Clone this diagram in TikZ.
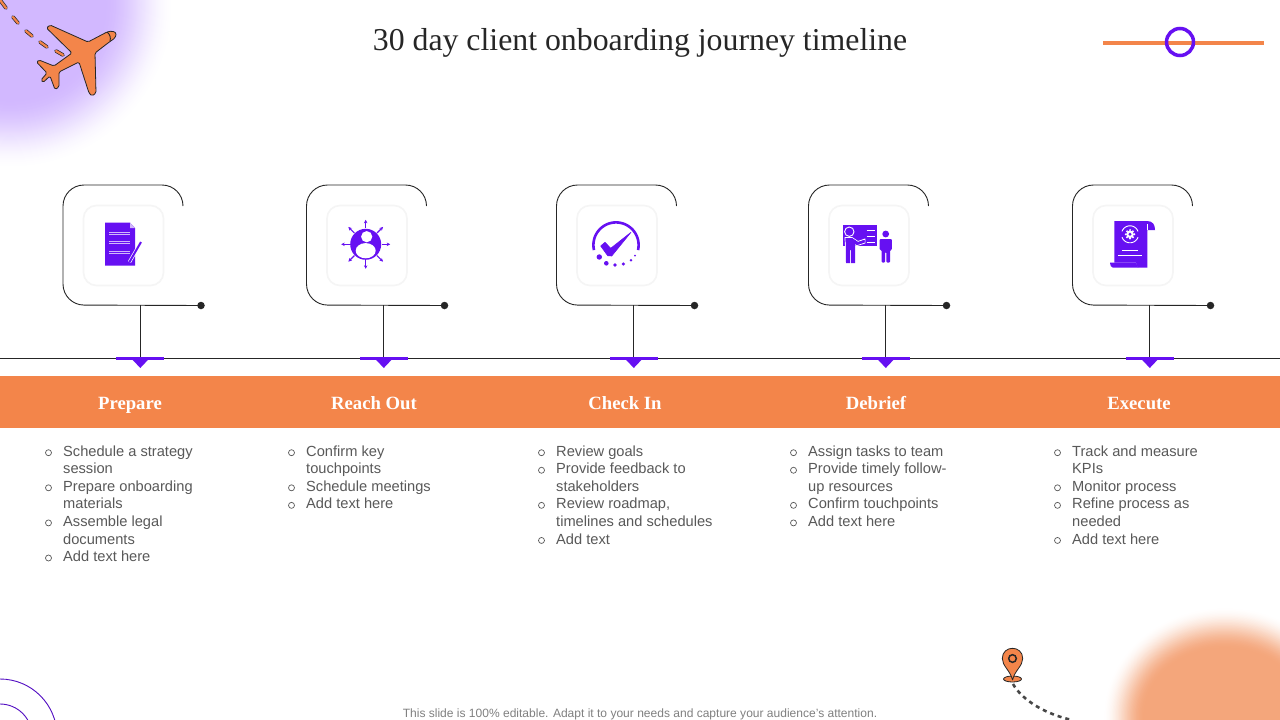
\documentclass[tikz,border=0pt]{standalone}
\usepackage{fontspec}
\setmainfont{Liberation Sans}
\newfontfamily\serifface{Liberation Serif}
\usetikzlibrary{arrows.meta,calc}
\definecolor{vio}{HTML}{6610F2}
\definecolor{org}{HTML}{F3854A}
\definecolor{ink}{HTML}{262626}
\definecolor{bodytxt}{HTML}{595959}
\definecolor{glowp}{HTML}{D2B8FF}
\definecolor{glowo}{HTML}{F4A67B}
\tikzset{
 bracket/.style={draw=ink,line width=0.9pt,rounded corners=21pt},
 card/.style={draw=black!4,line width=1.6pt,fill=white,rounded corners=13pt,minimum size=80pt,inner sep=0pt},
 enddot/.style={circle,fill=ink,minimum size=7.5pt,inner sep=0pt},
 stem/.style={draw=ink,line width=0.9pt},
 marker/.style={fill=vio,draw=none},
 headlabel/.style={font=\serifface\bfseries\fontsize{18.7}{20}\selectfont,text=white,inner sep=0pt,anchor=base},
 itemlist/.style={font=\fontsize{14.65}{17.6}\selectfont,text=bodytxt,align=left,anchor=north west,inner sep=0pt},
 bullet/.style={circle,draw=bodytxt,line width=0.7pt,minimum size=6pt,inner sep=0pt},
 ico/.style={fill=vio,draw=none},
 icow/.style={draw=white,line width=0.9pt},
 icoa/.style={draw=vio,line width=1.1pt,-{Stealth[length=3.5pt,width=3.5pt]}},
 trail/.style={line width=3.6pt,line cap=round,draw=ink},
 trailin/.style={line width=2.2pt,line cap=round,draw=org},
}
\newcommand{\stagecol}[6]{%
 \draw[bracket] (#2+120,206) -- (#2+120,185) -- (#2,185) -- (#2,305) -- (#2+138,305.5);
 \node[enddot] (dot#1) at (#2+138,305.5) {};
 \node[card] (card#1) at (#2+60.5,245.5) {};
 \coordinate (top#1) at (#2+77.3,305);
 \coordinate (mk#1) at (#2+77.3,358);
 \draw[stem] (top#1) -- (mk#1);
 \fill[marker] (#2+53.3,357) rectangle (#2+101.3,359.5);
 \fill[marker] (#2+68.8,359) -- (#2+85.8,359) -- (#2+77.3,368) -- cycle;
 \node[headlabel] (head#1) at (#3,409) {#4};
 \node[itemlist] (list#1) at (#6,445.2) {#5};
}
\newcommand{\bul}[3]{\foreach \k in {#3} {\node[bullet] at (#1,#2+\k*17.55) {};}}
\begin{document}
\begin{tikzpicture}[x=1pt,y=-1pt]
\useasboundingbox (0,0) rectangle (1280,720);
\fill[white] (0,0) rectangle (1280,720);
\begin{scope}
 \clip (0,0) rectangle (1280,720);
 % soft glows as stacked discs
 \foreach \i in {0,...,70}{
  \pgfmathsetmacro{\tt}{\i/70}
  \pgfmathsetmacro{\pc}{100*\tt*\tt*(3-2*\tt)}
  \fill[glowp!\pc!white] (10,5) circle ({165-72*\tt});
  \fill[glowo!\pc!white] (1225,717) ellipse ({122-42*\tt} and {110-42*\tt});
 }
 \draw[draw=vio!80!black,line width=0.9pt] (0,736) circle (57);
 \draw[draw=vio!80!black,line width=0.9pt] (0,736) circle (32);
 \foreach \a/\b/\c/\d in {0/0/6/8,13/17/18/23,26/31/32/36,40/42/47/47,56/51/63/55}{
  \draw[trail] (\a,\b) -- (\c,\d);
  \draw[trailin] (\a,\b) -- (\c,\d);
 }
 \draw[draw=ink!85,line width=2.6pt,dash pattern=on 4pt off 4pt] (1013,684) .. controls (1022,700) and (1045,714) .. (1072,720);
\end{scope}
% plane
\draw[draw=ink,fill=org,line width=0.8pt,line join=round,rounded corners=1.5pt]
 (112,31) -- (116.5,33) -- (115,38) -- (108,43) -- (95,53) -- (96,93) -- (92,96) -- (89,93) -- (79,62) -- (59,72)
 -- (59,87) -- (55,89.5) -- (50,76) -- (43,82.5) -- (41,80) -- (47,73) -- (36.5,62) -- (39,60) -- (54,66) -- (72,53)
 -- (46.5,28) -- (50,25) -- (88,42) -- (107,32) -- cycle;
\draw[draw=ink,line width=0.9pt] (107,32) .. controls (110,34) and (111,38) .. (110,41);
% title
\node[font=\serifface\fontsize{31.8}{36}\selectfont,text=ink,inner sep=0pt] (title) at (640,43) {30 day client onboarding journey timeline};
% slider
\draw[draw=org,line width=4pt] (1103,43) -- (1264,43);
\node[circle,draw=vio,line width=3.5pt,minimum size=27pt,inner sep=0pt] (knob) at (1180,42) {};
% timeline and band
\draw[draw=ink,line width=0.8pt] (0,358) -- (1280,358);
\fill[org] (0,376) rectangle (1280,428);
% columns
\stagecol{a}{63}{130}{Prepare}{Schedule a strategy\\session\\Prepare onboarding\\materials\\Assemble legal\\documents\\Add text here}{63}
\stagecol{b}{306.5}{374}{Reach Out}{Confirm key\\touchpoints\\Schedule meetings\\Add text here}{306}
\stagecol{c}{556.5}{625}{Check In}{Review goals\\Provide feedback to\\stakeholders\\Review roadmap,\\timelines and schedules\\Add text}{556}
\stagecol{d}{808.5}{876}{Debrief}{Assign tasks to team\\Provide timely follow-\\up resources\\Confirm touchpoints\\Add text here}{808}
\stagecol{e}{1072.5}{1139}{Execute}{Track and measure\\KPIs\\Monitor process\\Refine process as\\needed\\Add text here}{1072}
\bul{48.5}{452.7}{0,2,4,6}
\bul{291.5}{452.7}{0,2,3}
\bul{541.5}{452.7}{0,1,3,5}
\bul{793.5}{452.7}{0,1,3,4}
\bul{1057.5}{452.7}{0,2,3,5}
% icon 1
\fill[ico] (105,222.7) -- (130,222.7) -- (135,228) -- (135,265.7) -- (105,265.7) -- cycle;
\fill[white!70!vio] (130,222.7) -- (135,228) -- (130,228) -- cycle;
\foreach \y in {232.3,241.7,251}{\draw[draw=white!70!vio,line width=1pt] (109,\y) -- (130,\y);\draw[draw=white!70!vio,line width=.8pt] (109,\y+2) -- (130,\y+2);}
\draw[draw=white,line width=3.4pt] (141,242) -- (129.5,262);
\draw[draw=vio,line width=2pt] (141,242) -- (129.5,262);
% icon 2
\foreach \t in {0,45,...,315}{\draw[icoa] ($(365.7,244.3)+(\t:16)$) -- ($(365.7,244.3)+(\t:24.5)$);}
\fill[ico] (365.7,244.3) circle (15.5);
\fill[white] (366.7,236.7) circle (5.6);
\fill[white] (365.7,250.7) ellipse (10 and 7.6);
% icon 3
\draw[draw=vio,line width=2.6pt] plot[domain=193:-13,samples=50,smooth] ({616+22.6*cos(\x)},{245-22.6*sin(\x)});
\foreach \x/\y/\r in {599.3/257/2.7,606.3/263.3/2.3,615/265/1.9,623.3/264/1.7,631/260.3/1.4,635/255.7/1}{\fill[ico] (\x,\y) circle (\r);}
\filldraw[fill=vio,draw=vio,line width=0.6pt,line join=round] (600.7,246) -- (605,242.3) -- (610.7,248.3) -- (631,232.3) -- (611.7,256) -- (607.7,255.7) -- cycle;
% icon 4
\fill[ico] (843.3,225) rectangle (877.3,245.7);
\foreach \y in {230.7,236,242.3}{\draw[icow] (866.7,\y) -- (875,\y);}
\draw[draw=white,line width=0.9pt,fill=vio] (849.3,231.7) circle (4.7);
\draw[draw=white,line width=0.9pt,fill=vio,line join=round] (845,237.5) -- (852,237.5) -- (858,241.5) -- (865,239) -- (865,243) -- (857,245.5) -- (855,244.5) -- (855,245.7) -- (845.5,245.7) -- cycle;
\fill[ico] (845.7,238) -- (852,238) -- (858,242) -- (864.5,240) -- (864.5,242.5) -- (857,245) -- (855,244) -- (855,263) -- (851,263) -- (851,250) -- (850,250) -- (850,263) -- (846,263) -- cycle;
\fill[ico] (885.7,234) circle (3.4);
\fill[ico,rounded corners=1pt] (879.5,239) -- (891.8,239) -- (891.8,250) -- (890,250) -- (890,262.5) -- (886.3,262.5) -- (886.3,252) -- (885,252) -- (885,262.5) -- (881.5,262.5) -- (881.5,250) -- (879.5,250) -- cycle;
% icon 5
\fill[ico] (1114.3,221) -- (1147.3,221) -- (1147.3,267.7) -- (1138,267.7) -- (1136,262.7) -- (1114.3,262.7) -- cycle;
\fill[ico] (1147,221) .. controls (1153,221) and (1155,225) .. (1155,230) -- (1147,230) -- cycle;
\fill[ico] (1110,262.7) -- (1136,262.7) -- (1138.3,267.7) -- (1113,267.7) .. controls (1111,267.7) and (1110,265) .. (1110,262.7) -- cycle;
\draw[draw=white,line width=0.9pt] (1147,224) -- (1147,230);
\draw[draw=white,line width=0.9pt] plot[domain=20:160,samples=20,smooth] ({1130+8.5*cos(\x)},{234.3-8.5*sin(\x)});
\draw[draw=white,line width=0.9pt] plot[domain=200:340,samples=20,smooth] ({1130+8.5*cos(\x)},{234.3-8.5*sin(\x)});
\foreach \t in {0,45,...,315}{\fill[white] ($(1130,234.3)+(\t:4.2)$) circle (1.1);}
\fill[white] (1130,234.3) circle (3.8);
\fill[ico] (1130,234.3) circle (1.6);
\draw[icow] (1122.3,250) -- (1138.3,250);
\draw[icow] (1118.3,255.3) -- (1141.7,255.3);
% pin
\draw[draw=ink,fill=org,line width=0.8pt] (1012.5,679) ellipse (9 and 3);
\draw[draw=ink,fill=org,line width=0.8pt,line join=round] (1012.5,680) .. controls (1010,670) and (1002.3,666) .. (1002.3,658.5) .. controls (1002.3,644.9) and (1022.7,644.9) .. (1022.7,658.5) .. controls (1022.7,666) and (1015,670) .. (1012.5,680) -- cycle;
\draw[draw=ink,line width=1.5pt] (1012.5,658.5) circle (3.8);
% footer
\node[font=\fontsize{12.03}{14}\selectfont,text=black!50,inner sep=0pt] (foot) at (640,714) {This slide is 100\% editable. Adapt it to your needs and capture your audience's attention.};
\end{tikzpicture}
\end{document}
